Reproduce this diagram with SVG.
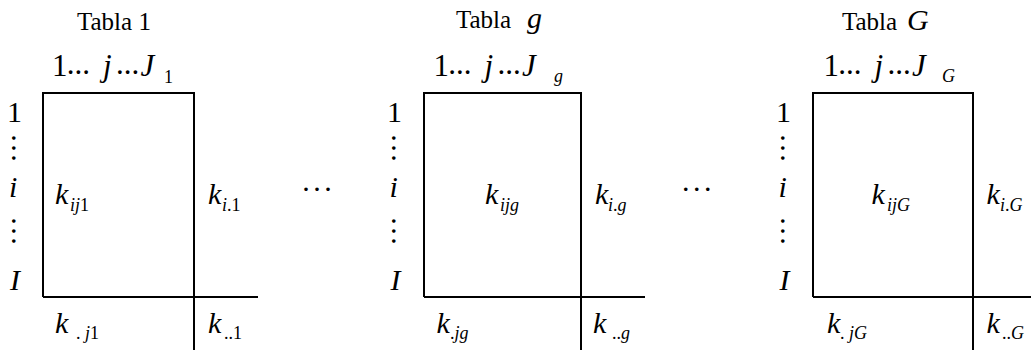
<svg xmlns="http://www.w3.org/2000/svg" width="1031" height="350" viewBox="0 0 1031 350" font-family="'Liberation Serif', 'Times New Roman', Tinos, 'DejaVu Serif', serif">
<style>
text{font-family:'Liberation Serif','Times New Roman',Tinos,'DejaVu Serif',serif;fill:#000}
.t{font-size:25px}
.h{font-size:31px}
.hs{font-size:18px}
.m{font-size:30px}
.s{font-size:18px}
.it{font-style:italic}
.ln{stroke:#000;stroke-width:2;fill:none}
</style>
<defs>
  <text id="vd" class="m" letter-spacing="2.5">...</text>
</defs>
<rect width="1031" height="350" fill="#fff"/>

<g id="table-1">
  <text class="t" x="77" y="30">Tabla 1</text>
  <text class="h" y="76"><tspan x="52">1</tspan><tspan x="66.8" y="73.5">...</tspan><tspan class="it" x="103" y="76">j</tspan><tspan x="116" y="73.5">...</tspan><tspan class="it" x="140.5" y="76">J</tspan></text>
  <text class="hs" x="164" y="83">1</text>
  <path class="ln" d="M43,297 V93 H194 V350 M43,297 H258"/>
  <text class="m" x="7" y="122">1</text>
  <use href="#vd" transform="translate(11.8,134.3) rotate(90)"/>
  <text class="m it" x="9" y="197">i</text>
  <use href="#vd" transform="translate(11.8,217.3) rotate(90)"/>
  <text class="m it" x="10" y="290">I</text>
  <text class="m it" x="55" y="204">k</text>
  <text class="s" x="70" y="211"><tspan class="it">ij</tspan>1</text>
  <text class="m it" x="208" y="204">k</text>
  <text class="s" x="222" y="211"><tspan class="it">i</tspan>.1</text>
  <text class="m it" x="55" y="333">k</text>
  <text class="s" x="76" y="339">. <tspan class="it">j</tspan>1</text>
  <text class="m it" x="208" y="333">k</text>
  <text class="s" x="224" y="339">..1</text>
</g>

<g id="ellipsis-1">
  <text class="m" x="302.3" y="190.5" letter-spacing="3.5">...</text>
</g>

<g id="table-g">
  <text class="t" x="456" y="28">Tabla</text>
  <text class="m it" x="527" y="28">g</text>
  <text class="h" y="76"><tspan x="433.5">1</tspan><tspan x="448.3" y="73.5">...</tspan><tspan class="it" x="484.5" y="76">j</tspan><tspan x="497.5" y="73.5">...</tspan><tspan class="it" x="522" y="76">J</tspan></text>
  <text class="hs it" x="554" y="82">g</text>
  <path class="ln" d="M424,297 V93 H581 V350 M424,297 H645"/>
  <text class="m" x="387" y="122">1</text>
  <use href="#vd" transform="translate(392.3,134.3) rotate(90)"/>
  <text class="m it" x="389.5" y="197">i</text>
  <use href="#vd" transform="translate(392.3,217.3) rotate(90)"/>
  <text class="m it" x="390.5" y="290">I</text>
  <text class="m it" x="485" y="204">k</text>
  <text class="s it" x="500" y="211">ijg</text>
  <text class="m it" x="595" y="204">k</text>
  <text class="s" x="608" y="211"><tspan class="it">i</tspan>.<tspan class="it">g</tspan></text>
  <text class="m it" x="436.5" y="333">k</text>
  <text class="s" x="450" y="339">.<tspan class="it">jg</tspan></text>
  <text class="m it" x="593" y="333">k</text>
  <text class="s" x="612" y="339">..<tspan class="it">g</tspan></text>
</g>

<g id="ellipsis-2">
  <text class="m" x="682" y="190.5" letter-spacing="3.5">...</text>
</g>

<g id="table-G">
  <text class="t" x="842" y="30">Tabla</text>
  <text class="m it" x="907" y="30">G</text>
  <text class="h" y="76"><tspan x="823.5">1</tspan><tspan x="838.3" y="73.5">...</tspan><tspan class="it" x="874.5" y="76">j</tspan><tspan x="887.5" y="73.5">...</tspan><tspan class="it" x="912" y="76">J</tspan></text>
  <text class="hs it" x="942" y="82">G</text>
  <path class="ln" d="M813,297 V93 H973 V350 M813,297 H1031"/>
  <text class="m" x="776" y="122">1</text>
  <use href="#vd" transform="translate(781.3,134.3) rotate(90)"/>
  <text class="m it" x="778.5" y="197">i</text>
  <use href="#vd" transform="translate(781.3,217.3) rotate(90)"/>
  <text class="m it" x="779.5" y="290">I</text>
  <text class="m it" x="871.5" y="204">k</text>
  <text class="s it" x="887" y="211">ijG</text>
  <text class="m it" x="986.5" y="204">k</text>
  <text class="s" x="1000" y="211"><tspan class="it">i</tspan>.<tspan class="it">G</tspan></text>
  <text class="m it" x="827" y="333">k</text>
  <text class="s" x="840" y="339">. <tspan class="it">jG</tspan></text>
  <text class="m it" x="986.5" y="333">k</text>
  <text class="s" x="1002" y="339">..<tspan class="it">G</tspan></text>
</g>
</svg>
